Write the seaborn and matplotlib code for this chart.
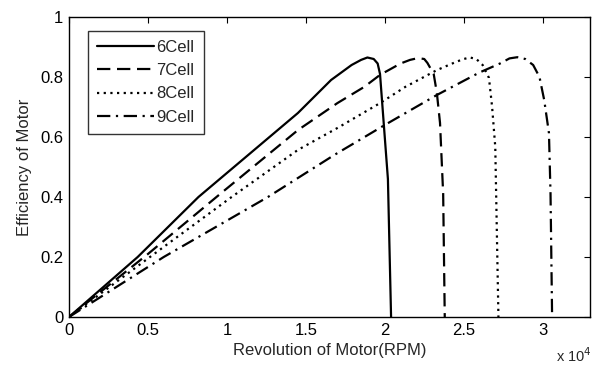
import matplotlib
matplotlib.use("Agg")
import matplotlib.pyplot as plt
import numpy as np
import pandas as pd
import seaborn as sns

# values (RPM, efficiency)
rpm_6 = [0, 4350, 8200, 14500, 16600, 17900, 18500, 18900, 19300, 19550, 19700, 19900, 20200, 20400]
eff_6 = [0, 0.20, 0.40, 0.68, 0.79, 0.84, 0.857, 0.865, 0.86, 0.845, 0.81, 0.67, 0.46, 0]

rpm_7 = [0, 5000, 9500, 14500, 17000, 18700, 19700, 21000, 21600, 22100, 22500, 22700, 23100, 23300, 23500, 23700, 23800]
eff_7 = [0, 0.21, 0.407, 0.623, 0.713, 0.767, 0.807, 0.845, 0.857, 0.863, 0.86, 0.847, 0.81, 0.747, 0.647, 0.41, 0]

rpm_8 = [0, 5000, 10300, 14500, 17000, 19700, 21300, 23300, 24500, 25000, 25400, 25800, 26200, 26600, 26800, 27000, 27200]
eff_8 = [0, 0.195, 0.40, 0.557, 0.63, 0.713, 0.767, 0.823, 0.85, 0.86, 0.865, 0.86, 0.84, 0.797, 0.70, 0.567, 0]

rpm_9 = [0, 6000, 12600, 16800, 20000, 23300, 26000, 27300, 27900, 28400, 28900, 29400, 29800, 30100, 30400, 30500, 30600]
eff_9 = [0, 0.20, 0.40, 0.54, 0.64, 0.74, 0.815, 0.845, 0.862, 0.866, 0.86, 0.84, 0.80, 0.723, 0.613, 0.41, 0]

labels = ["6Cell", "7Cell", "8Cell", "9Cell"]
x_ticks = [0, 5000, 10000, 15000, 20000, 25000, 30000]
x_tick_labels = ["0", "0.5", "1", "1.5", "2", "2.5", "3"]
y_ticks = [0, 0.2, 0.4, 0.6, 0.8, 1]
y_tick_labels = ["0", "0.2", "0.4", "0.6", "0.8", "1"]

sns.set_theme(style="white")
plt.rcParams["font.family"] = ["Liberation Sans", "DejaVu Sans"]

fig = plt.figure(figsize=(5.96, 3.68), dpi=100)
ax = fig.add_axes([69 / 596, 51 / 368, 521 / 596, 300 / 368])

styles = ["-", (0, (6, 3)), (0, (1, 2)), (0, (6, 2.5, 1, 2.5))]
for rpm, eff, lab, ls in zip([rpm_6, rpm_7, rpm_8, rpm_9], [eff_6, eff_7, eff_8, eff_9], labels, styles):
    df = pd.DataFrame({"rpm": rpm, "eff": eff})
    sns.lineplot(data=df, x="rpm", y="eff", sort=False, estimator=None,
                 color="black", linewidth=1.6, linestyle=ls, label=lab, ax=ax)

ax.set_xlim(0, 33000)
ax.set_ylim(0, 1)
ax.set_xticks(x_ticks)
ax.set_xticklabels(x_tick_labels)
ax.set_yticks(y_ticks)
ax.set_yticklabels(y_tick_labels)
ax.tick_params(direction="in", length=4, width=0.8, top=True, right=True,
               labelsize=12, colors="black", pad=4)
for s in ax.spines.values():
    s.set_visible(True)
    s.set_color("black")
    s.set_linewidth(1.0)
ax.set_xlabel("Revolution of Motor(RPM)", fontsize=12, labelpad=4)
ax.set_ylabel("Efficiency of Motor", fontsize=12, labelpad=6)
fig.text(556 / 596, 3 / 368, r"x 10$^{4}$", fontsize=10.5, ha="left", va="bottom")

leg = ax.legend(loc="upper left", bbox_to_anchor=(0.037, 0.955), fontsize=12,
                frameon=True, fancybox=False, edgecolor="black", handlelength=3.4,
                handletextpad=0.15, borderpad=0.55, labelspacing=0.5, borderaxespad=0)
leg.get_frame().set_linewidth(1.0)

fig.savefig("out.png", dpi=100, facecolor="white")
